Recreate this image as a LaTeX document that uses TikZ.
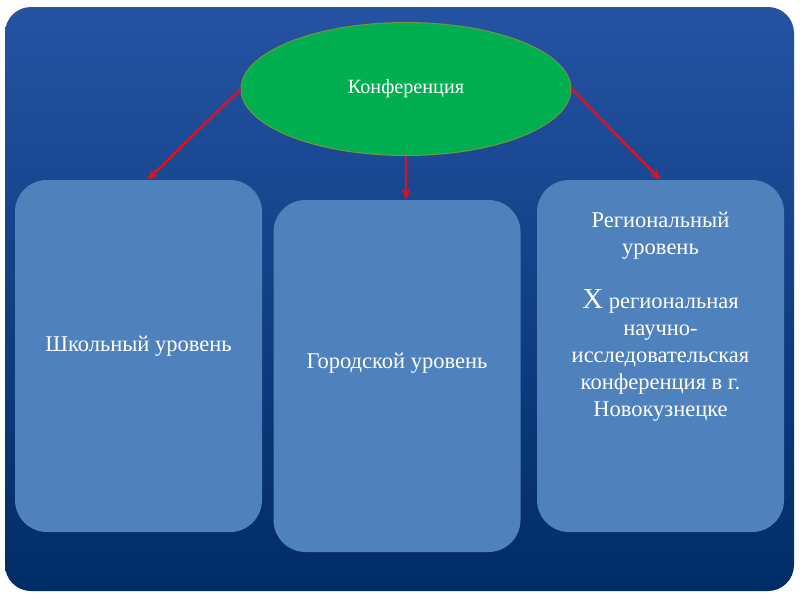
\documentclass[tikz,border=0pt]{standalone}
\usepackage{fontspec}
\setmainfont{Liberation Serif}
\usetikzlibrary{arrows.meta,shapes.geometric}

\definecolor{frametop}{HTML}{2453A3}
\definecolor{framebot}{HTML}{002C66}
\definecolor{boxblue}{HTML}{4F81BD}
\definecolor{confgreen}{HTML}{00B050}
\definecolor{confedge}{HTML}{77933C}
\definecolor{arrowred}{HTML}{E0101E}

\begin{document}
\begin{tikzpicture}[x=1pt,y=-1pt,
  level/.style={rectangle,rounded corners=32pt,fill=boxblue,draw=none,
    minimum width=247pt,minimum height=352pt,inner sep=0pt},
  leveltext/.style={text=white,align=center,font=\fontsize{22.5}{27}\selectfont},
  link/.style={arrowred,line width=2.5pt,-{Stealth[length=11pt,width=9pt]}}]
\useasboundingbox (0,0) rectangle (800,600);
\fill[white] (0,0) rectangle (800,600);
\shade[top color=frametop,bottom color=framebot,rounded corners=26pt]
  (5,7) rectangle (794,591);

\node[ellipse,fill=confgreen,draw=confedge,line width=1pt,
  minimum width=330pt,minimum height=133pt] (conf) at (406,89)
  {\color{white}\fontsize{20.2}{24}\selectfont Конференция};

\node[level] (school) at (138.5,356) {};
\node[level] (city) at (397,376) {};
\node[level] (region) at (660.5,356) {};

\node[leveltext] (schooltext) at (138.5,346) {Школьный уровень};
\node[leveltext] (citytext) at (397,363) {Городской уровень};
\node[leveltext,anchor=north] (regiontext) at (660.5,209)
  {Региональный\\уровень\\[27pt]{\fontsize{29}{27}\selectfont Х} региональная\\научно-\\исследовательская\\конференция в г.\\Новокузнецке};

\draw[link] (conf.west) -- ([xshift=9pt]school.north);
\draw[link] (conf.south) -- (conf.south |- city.north);
\draw[link] (conf.east) -- (region.north);
\end{tikzpicture}
\end{document}
